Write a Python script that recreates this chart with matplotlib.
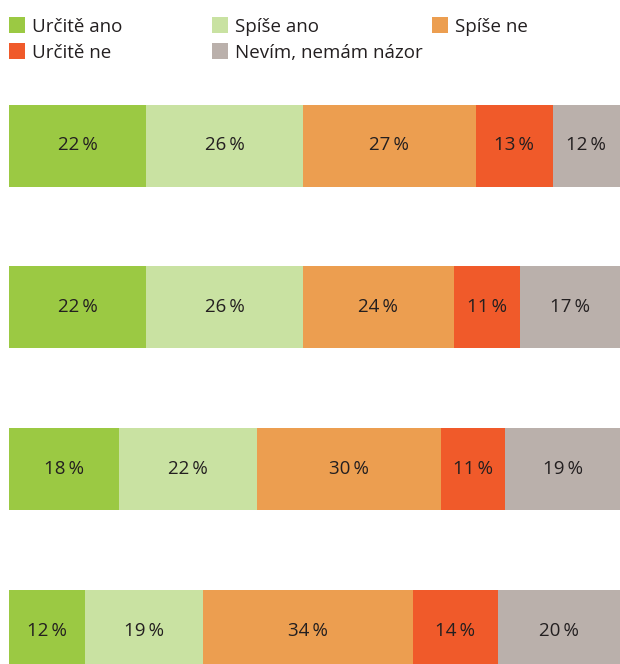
import matplotlib
matplotlib.use("Agg")
import matplotlib.pyplot as plt
from matplotlib.patches import Rectangle

categories = ["Určitě ano", "Spíše ano", "Spíše ne", "Určitě ne", "Nevím, nemám názor"]
colors = ["#9BC943", "#C9E2A2", "#EC9E50", "#F05A2A", "#BAB0AB"]

# segment widths (share of bar length, %)
bar1 = [22.4, 25.7, 28.3, 12.6, 11.0]
bar2 = [22.4, 25.7, 24.7, 10.8, 16.4]
bar3 = [18.0, 22.6, 30.1, 10.5, 18.8]
bar4 = [12.4, 19.3, 34.4, 13.9, 20.0]
bars = [bar1, bar2, bar3, bar4]

# printed labels
labels1 = [22, 26, 27, 13, 12]
labels2 = [22, 26, 24, 11, 17]
labels3 = [18, 22, 30, 11, 19]
labels4 = [12, 19, 34, 14, 20]
labels = [labels1, labels2, labels3, labels4]

FONT = ["Open Sans", "DejaVu Sans"]
plt.rcParams["font.family"] = FONT

W, H = 620, 664
fig = plt.figure(figsize=(W / 100, H / 100), dpi=100)
ax = fig.add_axes([9 / W, 0, 1 - 9 / W, 1])

spacing = 161.8
y0 = 145.5
for i, (vals, labs) in enumerate(zip(bars, labels)):
    left = 0
    for j, (v, lab) in enumerate(zip(vals, labs)):
        ax.barh(i, v, left=left, height=82 / spacing, color=colors[j], linewidth=0)
        ax.text(left + v / 2, i, f"{lab}\u2009%", ha="center", va="center",
                fontsize=13.5, color="#231F20", family=FONT)
        left += v

ax.set_xlim(0, 100)
ax.set_ylim((H - y0) / spacing, -y0 / spacing)
ax.axis("off")

# legend
leg_pos = [(9, 25), (212, 25), (432, 25), (9, 51), (212, 51)]
for (x, y), c, name in zip(leg_pos, colors, categories):
    fig.patches.append(Rectangle((x / W, 1 - (y + 8) / H), 16 / W, 16 / H,
                                 transform=fig.transFigure, color=c, linewidth=0))
    fig.text((x + 23) / W, 1 - (y + 1.5) / H, name, ha="left", va="center",
             fontsize=13.5, color="#231F20", family=FONT)

fig.savefig("out.png", dpi=100)
